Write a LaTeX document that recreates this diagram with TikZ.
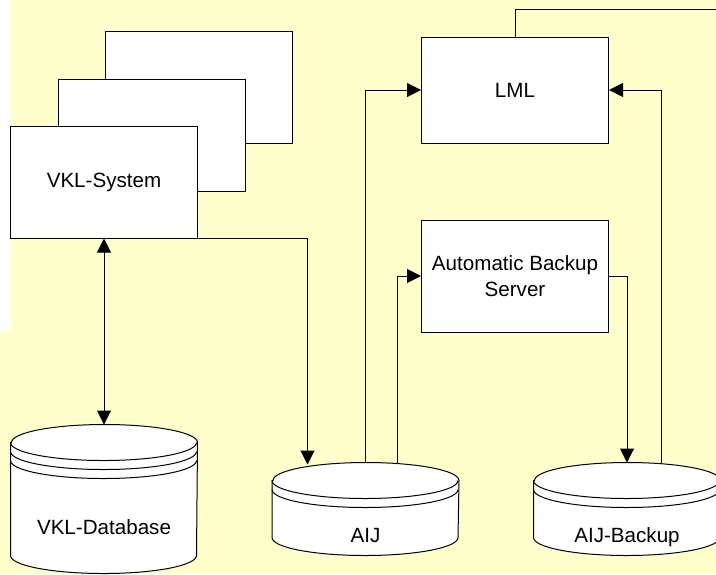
\documentclass[tikz,border=0pt]{standalone}
\usepackage{fontspec}
\setmainfont{Liberation Sans}
\usetikzlibrary{arrows.meta,calc}
\definecolor{paper}{HTML}{FFFFCC}

\begin{document}
\begin{tikzpicture}[x=0.5pt,y=-0.5pt,>={Triangle[length=7pt,width=7pt]},line width=0.5pt,
    box/.style={shape=rectangle,draw=black,fill=white,minimum width=93.5pt,minimum height=56pt,inner sep=0pt,align=center,font=\fontsize{10.3pt}{13pt}\selectfont},
    disk/.style={shape=rectangle,minimum width=93pt,inner sep=0pt},
    disklabel/.style={inner sep=0pt,text height=7.4pt,text depth=0pt,font=\fontsize{10.3pt}{13pt}\selectfont}]
                \useasboundingbox (0,0) rectangle (716,574);
                \fill[paper] (0,0) rectangle (716,574);
                \fill[white] (0,0) rectangle (11,331);
                % stacked system windows
                \node[box](back)at(199, 87.5){};
                \node[box](mid)at(151.5, 135){};
                \node[box](sys)at(104, 182){VKL-System};
                \node[box,minimum height=53pt](lml)at(515, 90){LML};
                \node[box](abs)at(515, 276){Automatic Backup\\Server};
                % storage
                \node[disk,minimum height=74pt](db)at(104, 499){};
                \node[disk,minimum height=46pt](aij)at(365.5, 509){};
                \node[disk,minimum height=46pt](bak)at(627, 509){};
                \foreach \c/\rings in {db/2,aij/1,bak/1}{
                    \draw[fill=white] ($(\c.north west)+(0,18)$) -- ($(\c.south west)+(0,-18)$)
                        arc[start angle=180,end angle=360,x radius=46.5pt,y radius=9pt]
                        -- ($(\c.north east)+(0,18)$)
                        arc[start angle=0,end angle=180,x radius=46.5pt,y radius=9pt] -- cycle;
                    \foreach \k in {0,...,\rings}
                        \draw ($(\c.north west)+(0,18+9*\k)$) arc[start angle=180,end angle=360,x radius=46.5pt,y radius=9pt];
                }
                \node[disklabel](dbname)at(104, 527){VKL-Database};
                \node[disklabel](aijname)at(365.5, 535){AIJ};
                \node[disklabel](bakname)at(627, 535){AIJ-Backup};
                \coordinate (offpage) at (720, 9);
                % links
                \path[<->] (sys) edge (db);
                \draw[->] (sys.south east) -| ([xshift=-29pt,yshift=-1pt]aij.north);
                \draw[->] (aij.north) |- (lml.west);
                \draw[->] ([xshift=15.75pt,yshift=-0.5pt]aij.north) |- (abs.west);
                \draw[->] (abs.east) -| (bak.north);
                \draw[->] ([xshift=17pt,yshift=-0.5pt]bak.north) |- (lml.east);
                \draw (lml.north) |- (offpage);
\end{tikzpicture}
\end{document}
